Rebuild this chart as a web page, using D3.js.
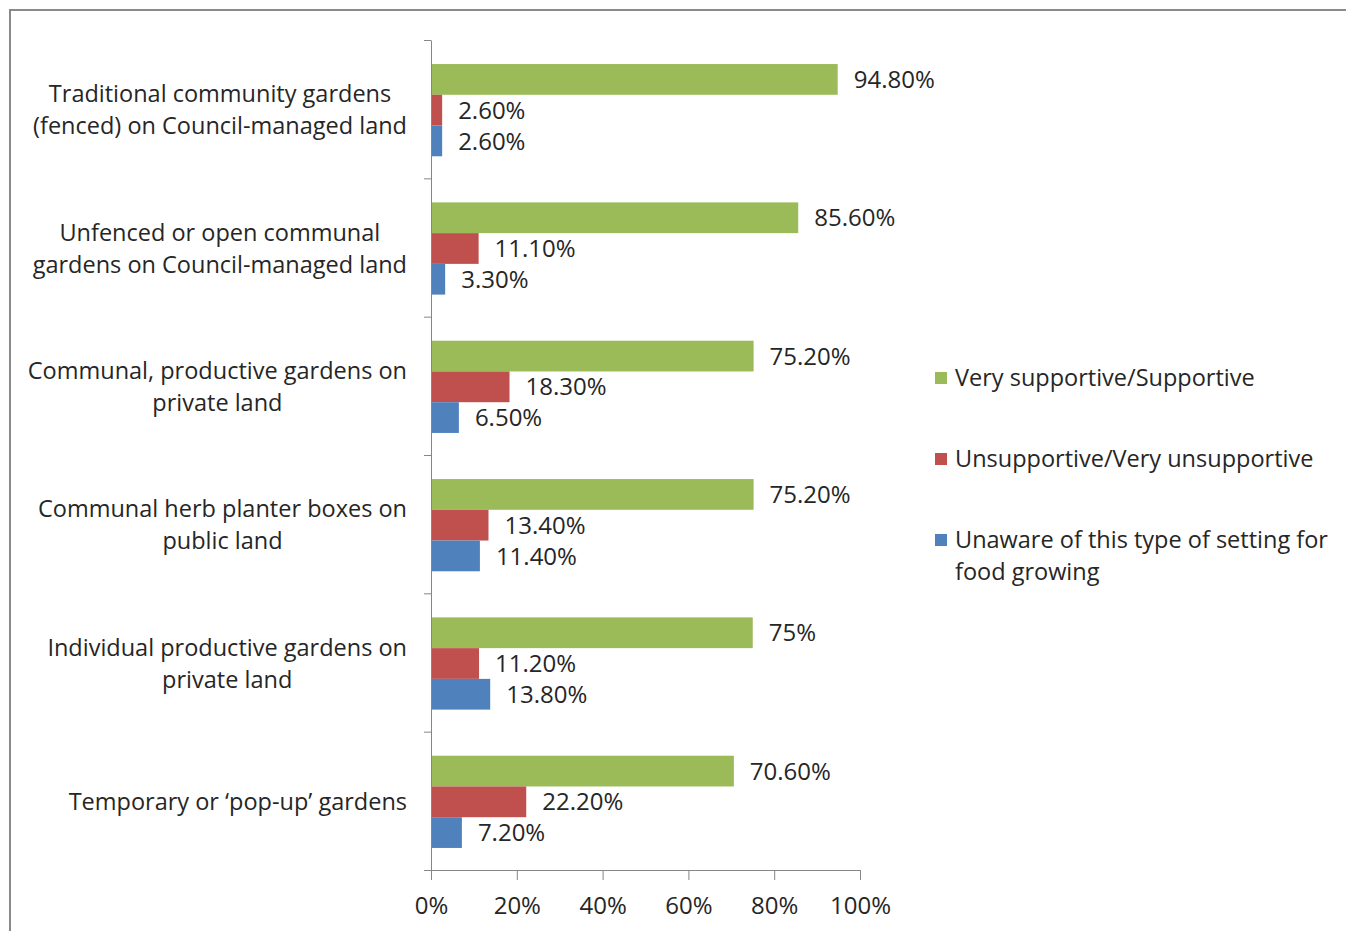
<!DOCTYPE html>
<html lang="en">
<head>
<script type="text/javascript" src="https://cdnjs.cloudflare.com/ajax/libs/d3/7.8.5/d3.min.js"></script>
<style>
    body { margin: 0; background: #fff; }
    text { font-family: "Open Sans", sans-serif; fill: #262626; }
</style>
</head>
<body>
<div id="container"></div>
<script type="text/javascript">
    var w = 1346;
    var h = 931;

    // chart data
    var categories = [
        ["Traditional community gardens", "(fenced) on Council-managed land"],
        ["Unfenced or open communal", "gardens on Council-managed land"],
        ["Communal, productive gardens on", "private land"],
        ["Communal herb planter boxes on", "public land"],
        ["Individual productive gardens on", "private land"],
        ["Temporary or \u2018pop-up\u2019 gardens"]
    ];
    var seriesNames = [
        ["Very supportive/Supportive"],
        ["Unsupportive/Very unsupportive"],
        ["Unaware of this type of setting for", "food growing"]
    ];
    var supportive   = [94.8, 85.6, 75.2, 75.2, 75, 70.6];
    var unsupportive = [2.6, 11.1, 18.3, 13.4, 11.2, 22.2];
    var unaware      = [2.6, 3.3, 6.5, 11.4, 13.8, 7.2];
    var xTicks = [0, 20, 40, 60, 80, 100];

    var colors = ["#9BBB59", "#C0504D", "#4F81BD"];
    var allSeries = [supportive, unsupportive, unaware];

    var labelSize = 23.5;
    var numSize = 24;

    var svg = d3.select("#container")
                .append("svg")
                .attr("width", w)
                .attr("height", h);

    // outer chart frame
    svg.append("rect")
        .attr("x", 10)
        .attr("y", 10)
        .attr("width", w + 20)
        .attr("height", h + 20)
        .attr("fill", "none")
        .attr("stroke", "#8a8a8a")
        .attr("stroke-width", 2);

    var idx = d3.range(categories.length);

    var xscale = d3.scaleLinear().domain([0, 100]).range([431, 860]);
    var yscale = d3.scaleBand().domain(idx).range([41, 871]);
    var inner = d3.scaleBand().domain([0, 1, 2])
                  .range([0, yscale.bandwidth()])
                  .paddingInner(0).paddingOuter(0.75);

    // bars
    var groups = svg.selectAll("g.cat")
                    .data(idx)
                    .enter()
                    .append("g")
                    .attr("class", "cat")
                    .attr("transform", function(i) { return "translate(0," + yscale(i) + ")"; });

    function fmt(v) {
        return Number.isInteger(v) ? v + "%" : v.toFixed(2) + "%";
    }

    groups.selectAll("rect")
        .data(function(i) { return allSeries.map(function(s, k) { return {k: k, v: s[i]}; }); })
        .enter()
        .append("rect")
        .attr("x", xscale(0))
        .attr("y", function(d) { return inner(d.k); })
        .attr("width", function(d) { return xscale(d.v) - xscale(0); })
        .attr("height", inner.bandwidth())
        .attr("fill", function(d) { return colors[d.k]; });

    groups.selectAll("text.val")
        .data(function(i) { return allSeries.map(function(s, k) { return {k: k, v: s[i]}; }); })
        .enter()
        .append("text")
        .attr("class", "val")
        .attr("x", function(d) { return xscale(d.v) + 16; })
        .attr("y", function(d) { return inner(d.k) + inner.bandwidth() / 2; })
        .attr("dy", "0.36em")
        .attr("font-size", numSize)
        .text(function(d) { return fmt(d.v); });

    // x axis
    var xAxis = d3.axisBottom(xscale)
                  .tickValues(xTicks)
                  .tickSize(10)
                  .tickPadding(17)
                  .tickFormat(function(d) { return d + "%"; });
    var gx = svg.append("g")
                .attr("transform", "translate(0,870)")
                .call(xAxis);
    gx.select(".domain").attr("d", "M424,0.5H860.5").attr("stroke", "#868686");
    gx.selectAll(".tick line").attr("stroke", "#868686");
    gx.selectAll(".tick text").attr("font-size", numSize).attr("fill", "#262626");

    // y axis (category boundaries)
    var ylin = d3.scaleLinear().domain([0, categories.length]).range([40, 870]);
    var yAxis = d3.axisLeft(ylin)
                  .tickValues(d3.range(categories.length + 1))
                  .tickSize(7)
                  .tickSizeOuter(0)
                  .tickFormat("");
    var gy = svg.append("g")
                .attr("transform", "translate(431,0)")
                .call(yAxis);
    gy.select(".domain").attr("stroke", "#868686");
    gy.selectAll(".tick line").attr("stroke", "#868686");

    // category labels: block right aligned, lines centred
    var labelRight = 407;
    var lineH = 32;
    groups.each(function(i) {
        var g = d3.select(this);
        var lines = categories[i];
        var t = g.append("text")
                 .attr("font-size", labelSize)
                 .attr("text-anchor", "middle");
        var y0 = yscale.bandwidth() / 2 - (lines.length - 1) * lineH / 2;
        lines.forEach(function(l, j) {
            t.append("tspan").attr("y", y0 + j * lineH).attr("dy", "0.35em").text(l);
        });
        var maxW = 0;
        t.selectAll("tspan").each(function() {
            maxW = Math.max(maxW, this.getComputedTextLength());
        });
        t.selectAll("tspan").attr("x", labelRight - maxW / 2);
    });

    // legend
    var legendY = [378, 459, 540];
    var legend = svg.selectAll("g.legend")
                    .data(seriesNames)
                    .enter()
                    .append("g")
                    .attr("class", "legend")
                    .attr("transform", function(d, k) { return "translate(935," + legendY[k] + ")"; });
    legend.append("rect")
        .attr("x", 0).attr("y", -6)
        .attr("width", 12).attr("height", 12)
        .attr("fill", function(d, k) { return colors[k]; });
    legend.append("text")
        .attr("font-size", labelSize)
        .selectAll("tspan")
        .data(function(d) { return d; })
        .enter()
        .append("tspan")
        .attr("x", 20)
        .attr("y", function(d, j) { return j * 32; })
        .attr("dy", "0.35em")
        .text(function(d) { return d; });
</script>
</body>
</html>
